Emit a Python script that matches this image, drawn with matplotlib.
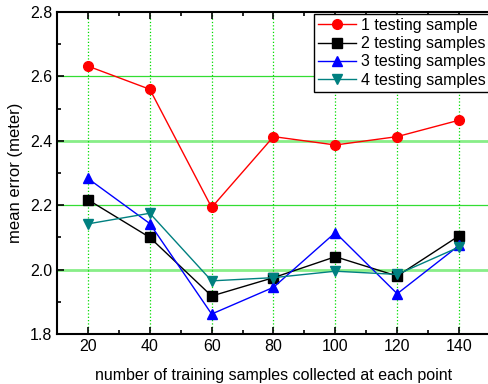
import matplotlib
matplotlib.use("Agg")
import matplotlib.pyplot as plt
from matplotlib.ticker import MultipleLocator

plt.rcParams['font.family'] = ['Liberation Sans', 'DejaVu Sans']

samples = [20, 40, 60, 80, 100, 120, 140]
err1 = [2.632, 2.560, 2.193, 2.413, 2.387, 2.413, 2.464]
err2 = [2.217, 2.100, 1.918, 1.975, 2.040, 1.980, 2.105]
err3 = [2.283, 2.143, 1.862, 1.945, 2.115, 1.925, 2.075]
err4 = [2.142, 2.175, 1.965, 1.975, 1.995, 1.985, 2.070]

fig = plt.figure(figsize=(4.89, 3.84), dpi=100)
ax = fig.add_axes([57/489, 1 - 334/384, 433/489, 322/384])

ax.plot(samples, err1, color='red', marker='o', markersize=7, lw=1, label='1 testing sample')
ax.plot(samples, err2, color='black', marker='s', markersize=6.5, lw=1, label='2 testing samples')
ax.plot(samples, err3, color='blue', marker='^', markersize=7.5, lw=1, label='3 testing samples')
ax.plot(samples, err4, color='#008080', marker='v', markersize=7.5, lw=1, label='4 testing samples')

ax.set_xlim(10, 150)
ax.set_ylim(1.8, 2.8)
ax.xaxis.set_major_locator(MultipleLocator(20))
ax.xaxis.set_minor_locator(MultipleLocator(10))
ax.yaxis.set_minor_locator(MultipleLocator(0.1))
ax.set_yticks([1.8, 2.0, 2.2, 2.4, 2.6, 2.8])
ax.set_yticklabels(['1.8', '2.0', '2.2', '2.4', '2.6', '2.8'])

ax.xaxis.grid(True, which='major', color='#00dd00', linestyle=':', lw=0.9)
for yv in [2.0, 2.4]:
    ax.axhline(yv, color='#88ee88', lw=2, zorder=0)
for yv in [2.2, 2.6]:
    ax.axhline(yv, color='#33dd33', lw=0.9, zorder=0)

ax.tick_params(which='both', direction='in', top=True, right=False, labelsize=11.5)
ax.tick_params(which='major', length=5, width=1.2)
ax.tick_params(which='minor', length=3, width=1.2)
for s in ax.spines.values():
    s.set_linewidth(1.5)

ax.set_xlabel('number of training samples collected at each point', fontsize=11.5, labelpad=10)
ax.set_ylabel('mean error (meter)', fontsize=12, labelpad=5)

ax.legend(loc='upper right', bbox_to_anchor=(1.0, 1 - 2/322), fontsize=11.5, frameon=True,
          fancybox=False, edgecolor='black', framealpha=1, borderpad=0.25, labelspacing=0.2,
          handlelength=2.4, handletextpad=0.3, borderaxespad=0)

fig.savefig('out.png', dpi=100)
